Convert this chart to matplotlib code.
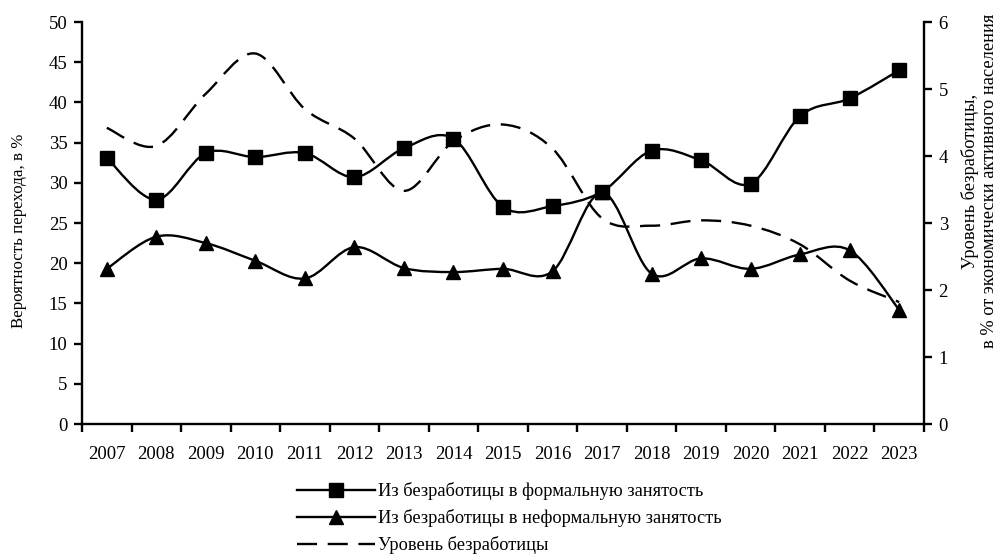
import numpy as np
import matplotlib
matplotlib.use("Agg")
import matplotlib.pyplot as plt
from matplotlib.path import Path
from matplotlib.patches import PathPatch
from matplotlib.lines import Line2D

plt.rcParams['font.family'] = ['Liberation Serif', 'DejaVu Serif']

years = [str(y) for y in range(2007, 2024)]
# transition probabilities, %
formal = [33.1, 27.9, 33.7, 33.2, 33.7, 30.7, 34.3, 35.5, 27.0, 27.1, 28.9,
          34.0, 32.8, 29.9, 38.3, 40.5, 44.0]
informal = [19.3, 23.3, 22.5, 20.3, 18.1, 22.0, 19.4, 18.9, 19.3, 19.0, 28.8,
            18.7, 20.6, 19.3, 21.1, 21.6, 14.2]
# unemployment rate, % of labour force (right axis)
unemp = [4.42, 4.15, 4.93, 5.53, 4.70, 4.26, 3.48, 4.22, 4.47, 4.11, 3.07,
         2.96, 3.04, 2.96, 2.68, 2.14, 1.82]


def smooth_path(x, y):
    # Excel-like smoothed line: Catmull-Rom segments as cubic Bezier
    x = np.asarray(x, float)
    y = np.asarray(y, float)
    p = np.column_stack([x, y])
    n = len(p)
    verts = [p[0]]
    codes = [Path.MOVETO]
    for i in range(n - 1):
        p0 = p[i - 1] if i > 0 else p[i]
        p3 = p[i + 2] if i + 2 < n else p[i + 1]
        c1 = p[i] + (p[i + 1] - p0) / 6
        c2 = p[i + 1] - (p3 - p[i]) / 6
        verts += [c1, c2, p[i + 1]]
        codes += [Path.CURVE4] * 3
    return Path(verts, codes)


fig = plt.figure(figsize=(10, 5.56), dpi=100)
ax = fig.add_axes([0.082, 0.2374, 0.842, 0.723])
ax2 = ax.twinx()

xs = np.arange(len(years))
lw = 1.7
dash = (0, (8.5, 4.5))

ax2.add_patch(PathPatch(smooth_path(xs, unemp), fill=False, lw=lw, ec='black',
                        ls=dash, capstyle='butt'))
ax.add_patch(PathPatch(smooth_path(xs, formal), fill=False, lw=lw, ec='black'))
ax.add_patch(PathPatch(smooth_path(xs, informal), fill=False, lw=lw, ec='black'))
ax.plot(xs, formal, ls='none', marker='s', ms=9.5, color='black', zorder=5)
ax.plot(xs, informal, ls='none', marker='^', ms=10, color='black', zorder=5)

ax.set_zorder(ax2.get_zorder() + 1)
ax.patch.set_visible(False)

ax.set_xlim(-0.5, len(years) - 0.5)
ax.set_ylim(0, 50)
ax2.set_ylim(0, 6)
ax.set_yticks(range(0, 51, 5))
ax2.set_yticks(range(0, 7))
ax.set_xticks(np.arange(len(years) + 1) - 0.5)
ax.set_xticklabels([])
ax.set_xticks(xs, minor=True)
ax.set_xticklabels(years, minor=True)

for a in (ax, ax2):
    a.spines['top'].set_visible(False)
    for s in a.spines.values():
        s.set_linewidth(1.7)
ax.spines['right'].set_visible(False)
ax2.spines['left'].set_visible(False)
ax2.spines['bottom'].set_visible(False)

ax.tick_params(axis='y', which='major', length=5.5, width=1.7, labelsize=13.5, pad=5)
ax.tick_params(axis='x', which='major', length=5.5, width=1.7, direction='out')
ax.tick_params(axis='x', which='minor', length=0, labelsize=13.5, pad=16)
ax2.tick_params(axis='y', length=5.5, width=1.7, labelsize=13.5, pad=5)

fig.text(0.019, 0.584, 'Вероятность перехода, в %', rotation=90,
         ha='center', va='center', fontsize=12.2)
fig.text(0.9795, 0.674,
         'Уровень безработицы,\nв % от экономически активного населения',
         rotation=90, ha='center', va='center', multialignment='center',
         fontsize=13.2, linespacing=1.12)

handles = [
    Line2D([], [], color='black', lw=lw, marker='s', ms=9.5),
    Line2D([], [], color='black', lw=lw, marker='^', ms=10),
    Line2D([], [], color='black', lw=lw, ls=dash),
]
labels = ['Из безработицы в формальную занятость',
          'Из безработицы в неформальную занятость',
          'Уровень безработицы']
fig.legend(handles, labels, loc='upper left', bbox_to_anchor=(0.297, 0.133),
           frameon=False, fontsize=13.2, handlelength=4.25, handletextpad=0.15,
           labelspacing=0.5, borderpad=0, borderaxespad=0)

fig.savefig('out.png', dpi=100)
